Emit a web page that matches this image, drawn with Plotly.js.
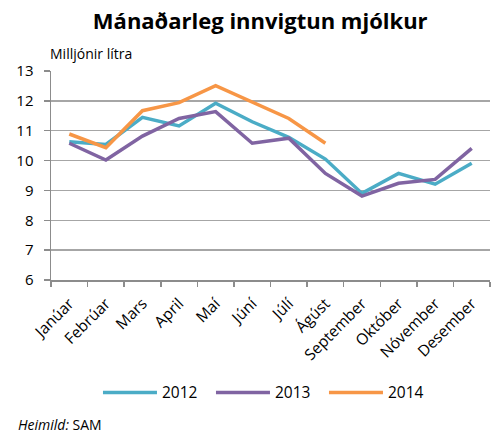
<!DOCTYPE html>
<html>
<head>
<meta charset="utf-8">
<script src="https://cdn.plot.ly/plotly-3.0.1.min.js"></script>
<style>html,body{margin:0;padding:0;background:#fff;}#chart{width:491px;height:434px;}</style>
</head>
<body>
<div id="chart"></div>
<script>
const months = ["Janúar","Febrúar","Mars","April","Maí","Júní","Júlí","Ágúst","September","Október","Nóvember","Desember"];
const y2012 = [10.63,10.54,11.45,11.16,11.92,11.30,10.78,10.05,8.90,9.57,9.21,9.91];
const y2013 = [10.58,10.02,10.82,11.41,11.64,10.58,10.75,9.57,8.81,9.24,9.37,10.41];
const y2014 = [10.89,10.43,11.67,11.94,12.51,11.96,11.41,10.58];
const seriesNames = ["2012","2013","2014"];
const colors = ["#4bacc6","#8064a2","#f79646"];
const fontFam = "Open Sans, Noto Sans, sans-serif";

const data = [y2012,y2013,y2014].map((ys,i)=>({
  type:"scatter", mode:"lines", name:seriesNames[i],
  x: months.slice(0, ys.length), y: ys,
  line:{color:colors[i], width:3.5}
}));

const layout = {
  width:491, height:434,
  margin:{l:51, r:1, t:71, b:154},
  paper_bgcolor:"#fff", plot_bgcolor:"#fff",
  font:{family:fontFam, size:14, color:"#000"},
  title:{text:"<b>Mánaðarleg innvigtun mjólkur</b>", xref:"container", x:0.53, xanchor:"center", y:0.95, yanchor:"middle", font:{size:22, family:fontFam, color:"#000"}},
  xaxis:{type:"category", categoryarray:months, range:[-0.5,11.5], tickangle:-45,
    showgrid:false, showline:true, linecolor:"#8c8c8c", linewidth:1.5,
    ticks:"outside", tickson:"boundaries", ticklen:5, tickcolor:"#8c8c8c", tickwidth:1.5,
    ticklabelstandoff:7, tickfont:{size:15.5}, fixedrange:true},
  yaxis:{range:[6,13], dtick:1, showgrid:true, gridcolor:"#a6a6a6", gridwidth:1.5,
    showline:true, linecolor:"#8c8c8c", linewidth:1.5, ticks:"outside", ticklen:6,
    tickcolor:"#8c8c8c", tickwidth:1.5, zeroline:false, ticklabelstandoff:7, tickfont:{size:15}, fixedrange:true},
  showlegend:true,
  legend:{orientation:"h", x:0.107, xanchor:"left", y:-0.54, yanchor:"middle",
    font:{size:15.5}, itemwidth:54, entrywidth:44, entrywidthmode:"pixels", traceorder:"normal"},
  annotations:[
    {text:"Milljónir lítra", xref:"paper", yref:"paper", x:-0.007, y:1.03, xanchor:"left", yanchor:"bottom", showarrow:false, font:{size:14}},
    {text:"<i>Heimild:</i> SAM", xref:"paper", yref:"paper", x:-0.08, y:-0.69, xanchor:"left", yanchor:"middle", showarrow:false, font:{size:14}}
  ]
};
Plotly.newPlot("chart", data, layout, {staticPlot:true, displayModeBar:false});
</script>
</body>
</html>
